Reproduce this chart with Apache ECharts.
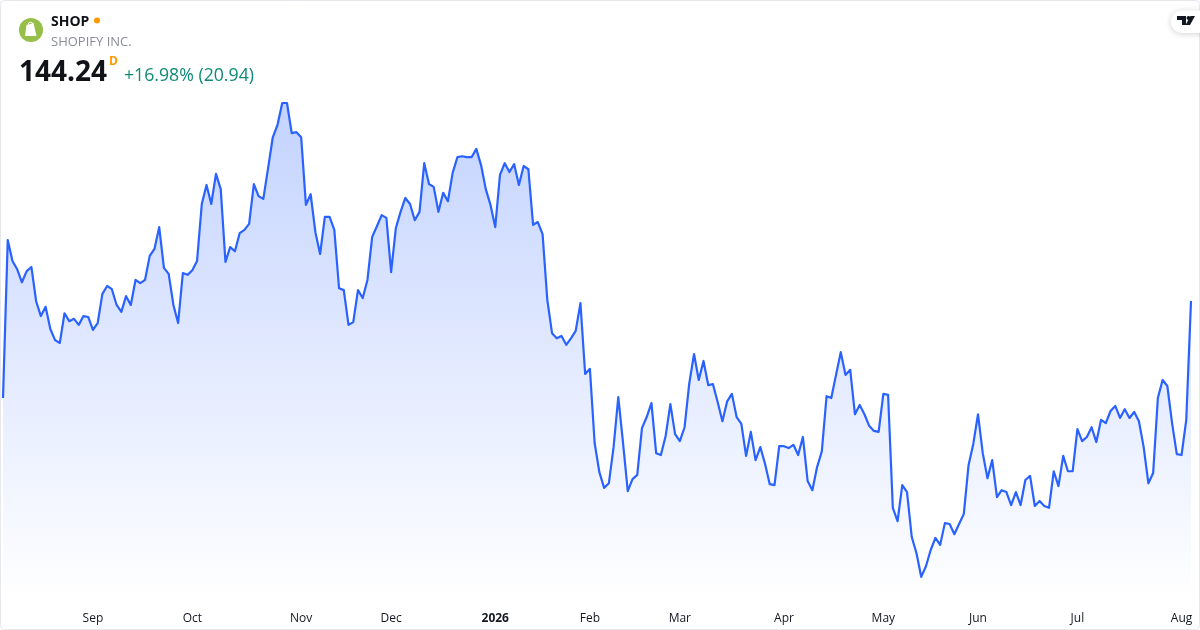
<!DOCTYPE html>
<html>
<head>
<meta charset="utf-8">
<style>html,body{margin:0;padding:0;background:#fff}#c{width:1200px;height:630px}</style>
<script src="https://cdn.jsdelivr.net/npm/echarts@6/dist/echarts.min.js"></script>
</head>
<body>
<div id="c"></div>
<script>
const symbol = 'SHOP';
const company = 'SHOPIFY INC.';
const lastPrice = '144.24';
const change = '+16.98% (20.94)';
const prices = [
123.3,157.4,152.9,151.1,148.3,150.7,151.6,144.2,141.0,143.0,138.2,135.8,135.2,141.6,139.9,140.4,139.1,141.0,140.8,138.0,
139.5,145.8,147.5,146.8,143.4,141.9,145.3,143.4,148.8,148.1,148.8,154.0,155.5,160.2,151.4,150.1,143.4,139.5,150.3,149.9,
150.9,152.9,165.2,169.3,165.2,171.7,168.4,152.7,155.9,155.0,158.9,159.6,160.9,169.5,166.9,166.3,172.9,179.6,182.3,187.0,
187.0,180.5,180.7,179.6,165.0,167.3,159.1,154.4,162.4,162.4,159.6,147.0,146.6,139.1,139.7,146.6,144.9,148.8,158.1,160.4,
162.8,162.2,150.5,160.0,163.5,166.5,165.2,161.7,163.5,174.0,169.5,168.9,163.5,167.6,165.8,171.9,175.3,175.5,175.3,175.3,
177.1,173.6,168.4,165.0,160.2,171.5,174.0,172.1,173.8,169.3,173.4,172.7,160.7,161.3,158.7,144.5,137.3,136.2,136.7,134.8,
136.2,137.8,143.8,128.5,129.6,113.6,107.3,103.9,104.9,112.7,123.5,113.6,103.2,105.8,106.7,116.8,119.2,122.2,111.4,111.0,
115.1,122.0,115.5,114.0,117.0,126.5,132.8,127.2,131.3,126.1,126.3,122.4,118.3,122.6,124.2,119.2,117.7,110.8,116.0,109.9,
112.7,109.1,104.7,104.5,112.9,112.9,112.5,113.2,111.0,114.9,105.4,103.4,108.4,111.8,123.7,123.3,128.3,133.2,128.3,129.4,
119.8,121.8,119.8,117.3,116.2,116.0,124.2,124.0,99.6,96.7,104.5,103.0,93.3,89.8,84.7,87.0,90.5,93.1,91.6,96.3,
96.1,93.9,96.1,98.3,108.8,113.4,119.8,111.4,106.0,109.9,101.9,103.4,103.0,100.2,103.0,100.2,105.6,106.5,100.0,101.1,
100.0,99.6,107.5,104.3,110.8,107.5,107.5,116.6,114.0,114.9,117.0,113.8,118.6,117.9,120.5,121.6,119.0,120.9,119.0,120.3,
118.3,112.7,104.9,107.1,123.3,127.2,125.9,117.9,111.2,111.0,118.6,144.24
];
const tickIndexes = [19,40,63,82,104,124,143,165,186,206,227,249];
const tickLabels = ['Sep','Oct','Nov','Dec','2026','Feb','Mar','Apr','May','Jun','Jul','Aug'];
const categories = prices.map((_, i) => i);

const font = '"Open Sans","Noto Sans",sans-serif';
const ink = '#111318';
const chart = echarts.init(document.getElementById('c'), null, {renderer:'canvas'});
const txt = (x, y, text, f, fill) => ({
  type:'text', x, y, z:20, silent:true,
  style:{text, font:f, fill, textVerticalAlign:'middle', textAlign:'left'}
});
chart.setOption({
  animation:false,
  backgroundColor:'#ffffff',
  grid:{left:3, right:9, top:103, bottom:30, containLabel:false},
  xAxis:{
    type:'category', data:categories, boundaryGap:false,
    axisLine:{show:false}, axisTick:{show:false}, splitLine:{show:false},
    axisLabel:{
      margin:13, fontSize:12, fontFamily:font, color:'#131722',
      hideOverlap:false,
      interval:(i) => tickIndexes.includes(i),
      formatter:(v) => {
        const k = tickIndexes.indexOf(Number(v));
        if (k < 0) return '';
        const t = tickLabels[k];
        return /^\d+$/.test(t) ? '{b|' + t + '}' : t;
      },
      rich:{b:{fontWeight:'bold', fontSize:12, fontFamily:font, color:'#131722'}}
    }
  },
  yAxis:{type:'value', min:79.7, max:187, show:false, splitLine:{show:false}},
  series:[{
    type:'line', data:prices, symbol:'none', smooth:false, clip:false,
    lineStyle:{color:'#2962ff', width:2.2, join:'round'},
    areaStyle:{
      origin:'start', opacity:1,
      color:new echarts.graphic.LinearGradient(0,0,0,1,[
        {offset:0,color:'rgba(41,98,255,0.28)'},
        {offset:1,color:'rgba(41,98,255,0)'}
      ])
    }
  }],
  graphic:{elements:[
    {type:'rect', z:15, silent:true, shape:{x:0.5,y:0.5,width:1199,height:629,r:4},
     style:{fill:'none', stroke:'#e6e8ee', lineWidth:1}},
    {type:'circle', z:20, silent:true, shape:{cx:31,cy:30,r:12}, style:{fill:'#95bf47'}},
    {type:'polygon', z:21, silent:true, shape:{points:[[26.5,25],[33.5,23],[36.5,36],[25,36]]}, style:{fill:'#ffffff'}},
    {type:'arc', z:21, silent:true, shape:{cx:30.5,cy:24.5,r:2.3,startAngle:Math.PI,endAngle:0}, style:{fill:'none',stroke:'#ffffff',lineWidth:1}},
    txt(28.2,31,'S','bold 8px '+font,'#95bf47'),
    txt(51,22,symbol,'bold 14px '+font,ink),
    {type:'circle', z:20, silent:true, shape:{cx:97,cy:20.5,r:3}, style:{fill:'#ff9800'}},
    txt(51,42,company,'13px '+font,'#8a8d96'),
    txt(19,73,lastPrice,'bold 28px '+font,ink),
    txt(109,62,'D','bold 12px '+font,'#ff9800'),
    txt(124,76,change,'17.7px '+font,'#0f8a76'),
    {type:'rect', z:20, silent:true, shape:{x:1171,y:10.5,width:40,height:22.5,r:11},
     style:{fill:'#ffffff', shadowBlur:6, shadowColor:'rgba(0,0,0,0.18)', shadowOffsetY:1}},
    {type:'polygon', z:21, silent:true,
     shape:{points:[[1177,16],[1186,16],[1186,25],[1182,25],[1182,20],[1177,20]]}, style:{fill:'#131722'}},
    {type:'circle', z:21, silent:true, shape:{cx:1188.5,cy:18,r:2}, style:{fill:'#131722'}},
    {type:'polygon', z:21, silent:true,
     shape:{points:[[1190.5,16],[1195,16],[1190,25],[1185.5,25]]}, style:{fill:'#131722'}}
  ]}
});
</script>
</body>
</html>
